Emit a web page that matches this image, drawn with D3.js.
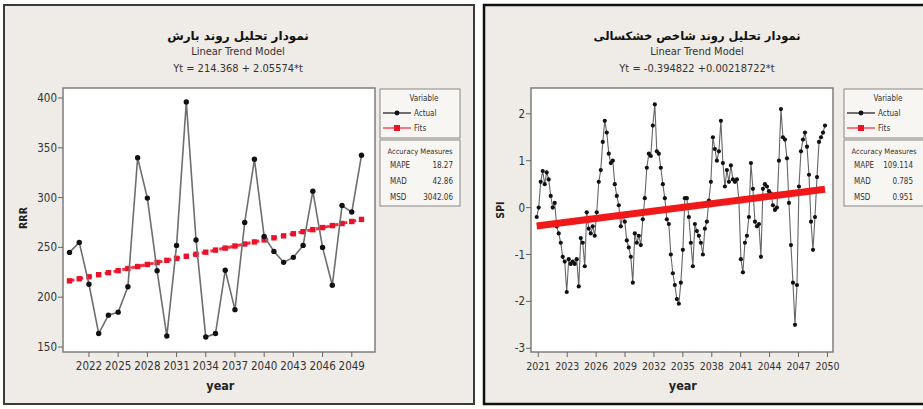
<!DOCTYPE html>
<html><head><meta charset="utf-8">
<script src="https://cdn.jsdelivr.net/npm/d3@7"></script>
<style>body{margin:0;background:#fff}svg{display:block}</style>
</head><body><svg id="c" width="923" height="409"></svg>
<script>
// ---------- Left chart: rainfall (RRR) ----------
const rainYears = [2020,2021,2022,2023,2024,2025,2026,2027,2028,2029,2030,2031,2032,2033,2034,2035,2036,2037,2038,2039,2040,2041,2042,2043,2044,2045,2046,2047,2048,2049,2050];
const rainActual = [245,255,213,163.5,182,185,210.5,340,299.5,226.5,161,252,396,257.5,160,163.5,227,187.5,275,338.5,261,246,235,240,252,306.5,250,212,292,285.5,342.5];
const rainFits = [216.4,218.5,220.5,222.6,224.6,226.7,228.8,230.8,232.9,234.9,237.0,239.0,241.1,243.1,245.2,247.3,249.3,251.4,253.4,255.5,257.5,259.6,261.6,263.7,265.8,267.8,269.9,271.9,274.0,276.0,278.1];
const rainXTicks = [2022,2025,2028,2031,2034,2037,2040,2043,2046,2049];
const rainYTicks = [150,200,250,300,350,400];
const rainMeasures = [["MAPE","18.27"],["MAD","42.86"],["MSD","3042.06"]];

// ---------- Right chart: drought index (SPI) ----------
const spiActual = [-0.2,0.0,0.55,0.78,0.5,0.75,0.6,0.25,0.0,0.1,-0.4,-0.55,-0.75,-1.05,-1.15,-1.8,-1.1,-1.2,-1.15,-1.2,
 -1.1,-1.68,-0.65,-0.75,-1.25,-0.1,-0.45,-0.55,-0.4,-0.6,-0.1,0.55,0.8,1.4,1.85,1.6,1.15,0.95,1.0,0.5,
 0.25,0.05,-0.4,-0.15,-0.3,-0.7,-0.85,-1.05,-1.6,-0.55,-0.75,-0.6,-0.8,-0.25,0.2,0.85,1.15,1.1,1.75,2.2,
 1.2,1.15,0.85,0.5,0.2,-0.25,-0.35,-1.0,-1.4,-1.65,-1.95,-2.05,-1.6,-0.9,0.2,0.2,-0.2,-0.75,-1.25,-0.35,
 -0.5,-0.6,-0.75,-1.0,-0.45,-0.3,0.15,0.55,1.5,1.25,1.0,1.2,1.85,0.95,0.45,0.8,0.55,0.9,0.6,0.55,
 0.6,0.15,-1.1,-1.38,-0.75,-0.6,-0.2,0.95,0.4,-0.3,-0.4,-0.35,-1.05,0.4,0.5,0.45,0.35,0.3,0.05,-0.05,
 0.0,1.0,2.1,1.5,1.45,1.05,0.1,-0.8,-1.6,-2.5,-1.65,0.45,1.2,1.45,1.6,1.3,0.7,-0.3,-0.9,-0.2,
 0.65,1.4,1.5,1.6,1.75];
const spiMonthRange = [1, 360];
const spiFits = [-0.3926, 0.3926];
const spiTickMonths = [3,39,75,111,147,183,219,255,291,327,363];
const spiTickLabels = ["2021","2023","2026","2029","2032","2035","2038","2041","2044","2047","2050"];
const spiYTicks = [-3,-2,-1,0,1,2];
const spiMeasures = [["MAPE","109.114"],["MAD","0.785"],["MSD","0.951"]];

const svg = d3.select("#c");
const narrow = "'Liberation Sans Narrow','DejaVu Sans Condensed','Arial Narrow',sans-serif";
const arab = "'DejaVu Sans','Noto Sans',sans-serif";

function panel(x, w, stroke, sw){
  svg.append("rect").attr("x",x).attr("y",5).attr("width",w).attr("height",399)
    .attr("fill","#efebe6").attr("stroke",stroke).attr("stroke-width",sw);
}
panel(4,470,"#3a3a3a",2);
panel(484,445,"#111",2.5);

function titles(cx, title, eq, fs){
  svg.append("text").attr("x",cx).attr("y",40).attr("text-anchor","middle")
    .attr("direction","rtl").attr("font-family",arab).attr("font-weight","bold")
    .attr("font-size",fs).attr("fill","#111").text(title);
  svg.append("text").attr("x",cx).attr("y",55).attr("text-anchor","middle")
    .attr("font-family",narrow).attr("font-size",11).attr("fill","#333").text("Linear Trend Model");
  svg.append("text").attr("x",cx).attr("y",72).attr("text-anchor","middle")
    .attr("font-family",narrow).attr("font-size",11).attr("fill","#333").text(eq);
}

function frame(x0,x1,y0,y1){
  svg.append("rect").attr("x",x0).attr("y",y0).attr("width",x1-x0).attr("height",y1-y0)
    .attr("fill","#fff").attr("stroke","#7d7d7d").attr("stroke-width",1.5);
}

function axes(x, y, xTicks, xLabels, yTicks, x0, y1, yLabel, yLabX, yLabY, xfs){
  const g = svg.append("g");
  yTicks.forEach(v=>{
    g.append("line").attr("x1",x0-5).attr("x2",x0).attr("y1",y(v)).attr("y2",y(v)).attr("stroke","#666");
    g.append("text").attr("x",x0-6).attr("y",y(v)+4).attr("text-anchor","end")
      .attr("font-family",narrow).attr("font-size",11.5).attr("fill","#333").text(v);
  });
  xTicks.forEach((v,i)=>{
    g.append("line").attr("x1",x(v)).attr("x2",x(v)).attr("y1",y1).attr("y2",y1+5).attr("stroke","#666");
    g.append("text").attr("x",x(v)).attr("y",370).attr("text-anchor","middle")
      .attr("font-family",narrow).attr("font-size",xfs).attr("fill","#333").text(xLabels[i]);
  });
  g.append("text").attr("x",(x(xTicks[0])+x(xTicks[xTicks.length-1]))/2).attr("y",390).attr("text-anchor","middle")
    .attr("font-family",narrow).attr("font-weight","bold").attr("font-size",12.5).attr("fill","#222").text("year");
  g.append("text").attr("transform",`translate(${yLabX},${yLabY}) rotate(-90)`).attr("text-anchor","middle")
    .attr("font-family",narrow).attr("font-weight","bold").attr("font-size",10.5).attr("fill","#222").text(yLabel);
}

function legend(x, w, measures, valX){
  const g = svg.append("g").attr("font-family",narrow).attr("fill","#333");
  g.append("rect").attr("x",x).attr("y",89).attr("width",w).attr("height",49)
    .attr("fill","#f8f6f3").attr("stroke","#888");
  g.append("rect").attr("x",x).attr("y",140).attr("width",w).attr("height",66)
    .attr("fill","#f8f6f3").attr("stroke","#888");
  g.append("text").attr("x",x+w*0.55).attr("y",101).attr("text-anchor","middle").attr("font-size",8).text("Variable");
  g.append("line").attr("x1",x+3).attr("x2",x+31).attr("y1",113).attr("y2",113).attr("stroke","#111").attr("stroke-width",1.2);
  g.append("circle").attr("cx",x+17).attr("cy",113).attr("r",2.4).attr("fill","#111");
  g.append("text").attr("x",x+34).attr("y",116).attr("font-size",8).text("Actual");
  g.append("line").attr("x1",x+3).attr("x2",x+31).attr("y1",128).attr("y2",128).attr("stroke","#f0223a").attr("stroke-width",1.2);
  g.append("rect").attr("x",x+14).attr("y",125).attr("width",6).attr("height",6).attr("fill","#e8132b");
  g.append("text").attr("x",x+34).attr("y",131).attr("font-size",8).text("Fits");
  g.append("text").attr("x",x+w/2).attr("y",154).attr("text-anchor","middle").attr("font-size",7.5).text("Accuracy Measures");
  measures.forEach((m,i)=>{
    g.append("text").attr("x",x+10).attr("y",168+i*16).attr("font-size",8).text(m[0]);
    g.append("text").attr("x",valX).attr("y",168+i*16).attr("text-anchor","end").attr("font-size",8).text(m[1]);
  });
}

// ===== Left =====
titles(238,"نمودار تحلیل روند بارش","Yt = 214.368 + 2.05574*t",12);
frame(63,375,88,352);
const xL = d3.scaleLinear().domain([rainYears[0], rainYears[rainYears.length-1]]).range([69.5,361.5]);
const yL = d3.scaleLinear().domain([150,400]).range([347,98]);
axes(xL, yL, rainXTicks, rainXTicks.map(String), rainYTicks, 63, 352, "RRR", 27, 218, 11.5);
svg.append("path").datum(rainFits).attr("fill","none").attr("stroke","#ff2a40").attr("stroke-width",3)
  .attr("stroke-dasharray","5,4")
  .attr("d", d3.line().x((d,i)=>xL(rainYears[i])).y(d=>yL(d)));
svg.append("g").selectAll("rect").data(rainFits).join("rect")
  .attr("x",(d,i)=>xL(rainYears[i])-2.7).attr("y",d=>yL(d)-2.7).attr("width",5.4).attr("height",5.4).attr("fill","#e8132b");
svg.append("path").datum(rainActual).attr("fill","none").attr("stroke","#6e6e6e").attr("stroke-width",1.6)
  .attr("d", d3.line().x((d,i)=>xL(rainYears[i])).y(d=>yL(d)));
svg.append("g").selectAll("circle").data(rainActual).join("circle")
  .attr("cx",(d,i)=>xL(rainYears[i])).attr("cy",d=>yL(d)).attr("r",2.7).attr("fill","#111");
legend(380,80,rainMeasures,453);

// ===== Right =====
titles(697,"نمودار تحلیل روند شاخص خشکسالی","Yt = -0.394822 +0.00218722*t",11.5);
frame(531,833,88,352);
const xR = d3.scaleLinear().domain(spiMonthRange).range([536.7,825]);
const yR = d3.scaleLinear().domain([-3,2]).range([348.3,113.8]);
axes(xR, yR, spiTickMonths, spiTickLabels, spiYTicks, 531, 352, "SPI", 504, 210, 10.5);
const spiMonthOf = d3.scaleLinear().domain([0, spiActual.length-1]).range(spiMonthRange);
svg.append("path").datum(spiActual).attr("fill","none").attr("stroke","#666").attr("stroke-width",1.1)
  .attr("d", d3.line().x((d,i)=>xR(spiMonthOf(i))).y(d=>yR(d)));
svg.append("g").selectAll("circle").data(spiActual).join("circle")
  .attr("cx",(d,i)=>xR(spiMonthOf(i))).attr("cy",d=>yR(d)).attr("r",2.1).attr("fill","#111");
svg.append("path").datum(spiFits).attr("fill","none").attr("stroke","#f01818").attr("stroke-width",7)
  .attr("d", d3.line().x((d,i)=>xR(spiMonthRange[i])).y(d=>yR(d)));
legend(844,80,spiMeasures,913);
</script></body></html>
